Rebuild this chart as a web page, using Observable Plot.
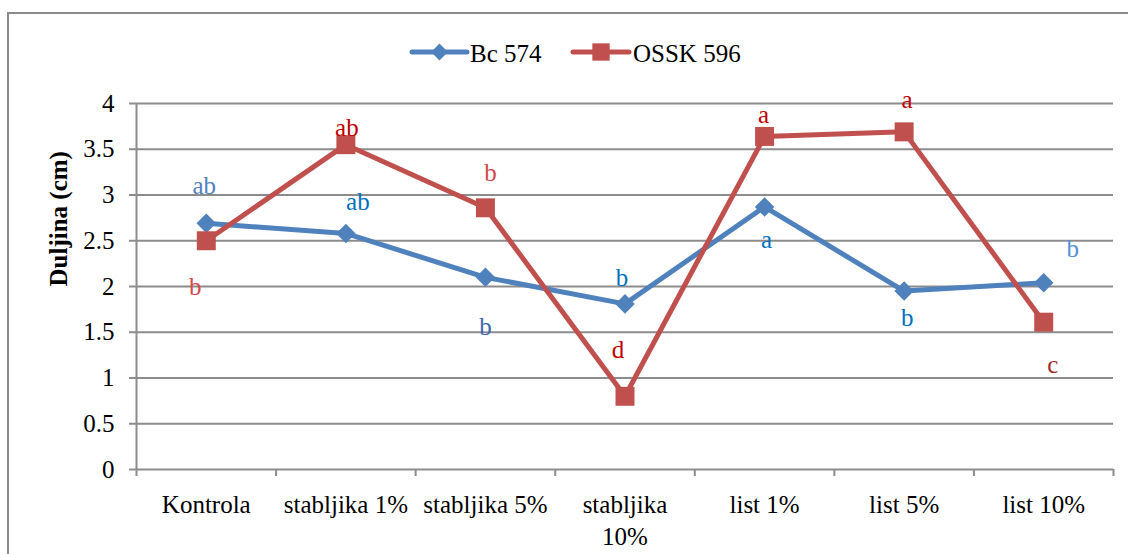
<!DOCTYPE html>
<html>
<head>
<meta charset="utf-8">
<script src="https://cdn.jsdelivr.net/npm/d3@7"></script>
<script src="https://cdn.jsdelivr.net/npm/@observablehq/plot@0.6"></script>
<style>
  body { margin: 0; background: #fff; }
  #wrap { position: relative; width: 1128px; height: 554px; overflow: hidden; font-family: "Liberation Serif", "Times New Roman", serif; }
  #frame { position: absolute; left: 7px; top: 12px; width: 1300px; height: 700px; border-left: 2px solid #8a8a8a; border-top: 2px solid #8a8a8a; pointer-events: none; }
  #legend svg, #chart svg { display: block; }
  #legend { height: 80px; }
</style>
</head>
<body>
<div id="wrap">
  <div id="frame"></div>
  <div id="legend"></div>
  <div id="chart"></div>
</div>
<script>
// ---- data ----
const categories = ["Kontrola", "stabljika 1%", "stabljika 5%", "stabljika 10%", "list 1%", "list 5%", "list 10%"];
const tickLabels = ["Kontrola", "stabljika 1%", "stabljika 5%", "stabljika\n10%", "list 1%", "list 5%", "list 10%"];
const seriesNames = ["Bc 574", "OSSK 596"];
const bc574 = [2.69, 2.58, 2.10, 1.81, 2.87, 1.95, 2.04];
const ossk596 = [2.50, 3.55, 2.86, 0.80, 3.64, 3.69, 1.61];
const bc574Letters = ["ab", "ab", "b", "b", "a", "b", "b"];
const ossk596Letters = ["b", "ab", "b", "d", "a", "a", "c"];
const yTicks = [0, 0.5, 1, 1.5, 2, 2.5, 3, 3.5, 4];
const yTitle = "Duljina (cm)";

// ---- styles ----
const FONT = "'Liberation Serif', 'Times New Roman', serif";
const blue = "#4F81BD", red = "#C0504D", grid = "#8c8c8c";
const bcLetterColors = ["#4F81BD", "#0070C0", "#3B68AE", "#0070C0", "#0070C0", "#0070C0", "#558ED5"];
const osLetterColors = ["#D04A4A", "#C00000", "#D04A4A", "#C00000", "#C00000", "#C00000", "#9B2D2A"];
const bcLetterOffsets = [[-2, -37], [12, -31], [0, 50], [-3, -26], [2, 33], [3, 27], [29, -34]];
const osLetterOffsets = [[-11, 46], [1, -17], [5, -35], [-7, -46], [-1, -21], [3, -32], [9, 43]];

const rows = categories.map((c, i) => ({cat: c, x: i + 0.5, bc: bc574[i], os: ossk596[i]}));

// ---- legend ----
const leg = d3.select("#legend").append("svg").attr("width", 1128).attr("height", 80);
const items = [
  {name: seriesNames[0], color: blue, sym: d3.symbolDiamond2, size: 180, x0: 412, x1: 467, tx: 470},
  {name: seriesNames[1], color: red, sym: d3.symbolSquare, size: 300, x0: 573, x1: 629, tx: 633}
];
for (const it of items) {
  leg.append("line").attr("x1", it.x0).attr("x2", it.x1).attr("y1", 52).attr("y2", 52)
    .attr("stroke", it.color).attr("stroke-width", 5).attr("stroke-linecap", "round");
  leg.append("path").attr("d", d3.symbol(it.sym, it.size)()).attr("transform", `translate(${(it.x0 + it.x1) / 2},52)`).attr("fill", it.color);
  leg.append("text").attr("x", it.tx).attr("y", 62).attr("font-family", FONT).attr("font-size", 25).attr("fill", "black").text(it.name);
}

// ---- chart ----
const letterMarks = [];
rows.forEach((r, i) => {
  letterMarks.push(Plot.text([r], {x: "x", y: "bc", text: () => bc574Letters[i], dx: bcLetterOffsets[i][0], dy: bcLetterOffsets[i][1], fill: bcLetterColors[i], fontSize: 25}));
  letterMarks.push(Plot.text([r], {x: "x", y: "os", text: () => ossk596Letters[i], dx: osLetterOffsets[i][0], dy: osLetterOffsets[i][1], fill: osLetterColors[i], fontSize: 25}));
});

const chart = Plot.plot({
  width: 1128,
  height: 474,
  marginTop: 23,
  marginBottom: 85,
  marginLeft: 136,
  marginRight: 15,
  style: {fontFamily: FONT, fontSize: "25px", color: "black", background: "transparent", overflow: "visible"},
  x: {domain: [0, categories.length]},
  y: {domain: [0, 4]},
  marks: [
    Plot.gridY(yTicks.filter(t => t > 0), {stroke: grid, strokeOpacity: 1, strokeWidth: 2}),
    Plot.ruleY([0], {stroke: grid, strokeWidth: 2}),
    Plot.ruleX([0], {stroke: grid, strokeWidth: 2}),
    Plot.axisY(yTicks, {tickSize: 7, tickPadding: 15, tickFormat: d => String(d), stroke: grid, strokeWidth: 2, strokeOpacity: 1, fill: "black", label: null, fontSize: 25}),
    Plot.axisX(d3.range(0, categories.length + 1), {tickSize: 7, tickFormat: () => "", stroke: grid, strokeWidth: 2, strokeOpacity: 1, label: null}),
    Plot.axisX(rows.map(r => r.x), {tickSize: 0, tickPadding: 21, tickFormat: d => tickLabels[Math.floor(d)], lineHeight: 1.28, fill: "black", label: null, fontSize: 25}),
    Plot.text([yTitle], {frameAnchor: "left", dx: -78, rotate: -90, fontWeight: "bold", fontSize: 25, fill: "black"}),
    Plot.line(rows, {x: "x", y: "bc", stroke: blue, strokeWidth: 5, strokeLinejoin: "round"}),
    Plot.dot(rows, {x: "x", y: "bc", symbol: "diamond2", r: 8.8, fill: blue, stroke: null}),
    Plot.line(rows, {x: "x", y: "os", stroke: red, strokeWidth: 5, strokeLinejoin: "round"}),
    Plot.dot(rows, {x: "x", y: "os", symbol: "square", r: 10.7, fill: red, stroke: null}),
    ...letterMarks
  ]
});
document.getElementById("chart").appendChild(chart);
</script>
</body>
</html>
